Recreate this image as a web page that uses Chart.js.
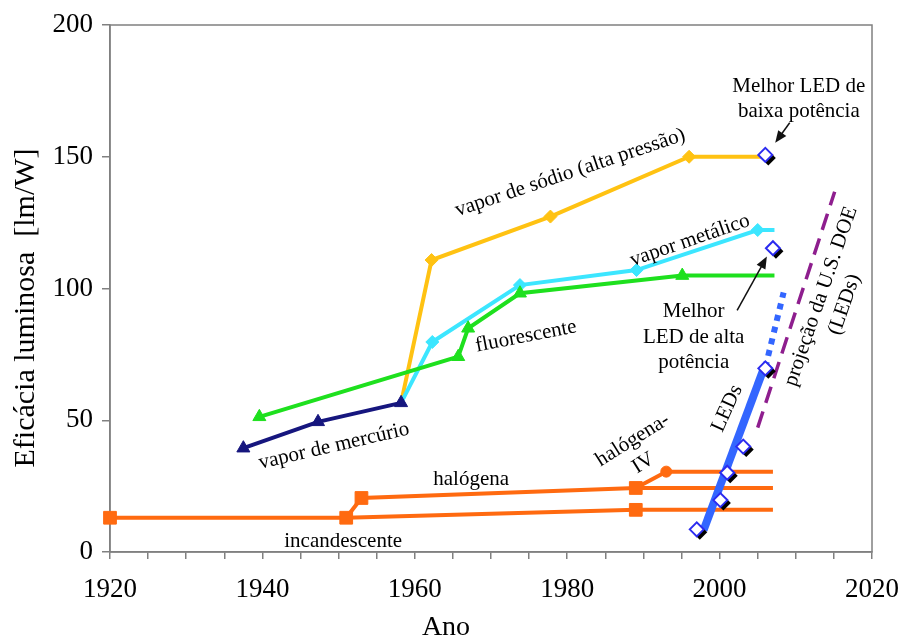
<!DOCTYPE html>
<html><head><meta charset="utf-8">
<script src="https://cdn.jsdelivr.net/npm/chart.js@4"></script>
<style>html,body{margin:0;padding:0;background:#fff;}#wrap{width:906px;height:639px;}</style>
</head><body><div id="wrap"><canvas id="c" width="906" height="639"></canvas></div>
<script>
// ---- data ----
const incYears = [1920, 1951, 1989, 2007];
const incVals  = [13, 13, 16, 16];
const halYears = [1951, 1953, 1989, 2007];
const halVals  = [13, 20.5, 24.3, 24.3];
const halIRYears = [1989, 1993, 2007];
const halIRVals  = [24.3, 30.5, 30.5];
const mercYears = [1937.5, 1947.3, 1958.2];
const mercVals  = [39.4, 49.4, 56.6];
const fluoYears = [1939.6, 1965.7, 1967.0, 1973.8, 1995.1, 2007.2];
const fluoVals  = [51.3, 74.1, 84.9, 98.2, 104.9, 104.9];
const metalYears = [1958.2, 1962.3, 1973.8, 1989.1, 2005.0, 2007.2];
const metalVals  = [56.6, 79.7, 101.3, 107.0, 122.2, 122.2];
const sodioYears = [1958.2, 1962.2, 1977.8, 1996.0, 2007.1];
const sodioVals  = [56.6, 110.8, 127.3, 150.0, 150.0];
const ledYears = [1997.0, 2000.1, 2001.0, 2003.1, 2006.0, 2007.0, 2006.0];
const ledVals  = [8.6, 19.7, 30.1, 40.0, 69.7, 115.3, 150.7];
const ledTrendYears = [1997.9, 2005.8];
const ledTrendVals  = [8.3, 69.7];
const ledProjYears = [2006.0, 2008.4];
const ledProjVals  = [70, 98.5];
const doeYears = [2005.0, 2015.1];
const doeVals  = [47.2, 136.7];
const xTicks = [1920, 1940, 1960, 1980, 2000, 2020];
const yTicks = [0, 50, 100, 150, 200];

const pts = (xs, ys) => xs.map((x, i) => ({x, y: ys[i]}));
const FONT = '"Liberation Serif", "Times New Roman", serif';

function lineDS(data, color, style, radius, markerIdx, order, extra) {
  return Object.assign({
    data, borderColor: color, backgroundColor: color, borderWidth: 4,
    pointStyle: style, pointBorderWidth: 1, pointBorderColor: color, pointBackgroundColor: color,
    pointRadius: ctx => markerIdx.includes(ctx.dataIndex) ? radius : 0,
    pointHoverRadius: 0, tension: 0, clip: false, order, fill: false
  }, extra || {});
}

const datasets = [
  // LED markers (white diamonds, blue edge)
  lineDS(pts(ledYears, ledVals), '#2b2bf0', 'rectRot', 7, [], 0,
    {showLine: false, pointBackgroundColor: '#ffffff', pointBorderColor: '#2b2bf0', pointBorderWidth: 2, pointRadius: 7}),
  // LED marker shadows (same points, drawn offset)
  lineDS(pts(ledYears, ledVals), '#000000', 'rectRot', 7.5, [], 0.5,
    {showLine: false, pointBackgroundColor: '#000000', pointBorderWidth: 0, pointRadius: 7.5}),
  lineDS(pts(ledTrendYears, ledTrendVals), '#3366ff', 'circle', 0, [], 1, {borderWidth: 8, borderCapStyle: 'butt'}),
  lineDS(pts(ledProjYears, ledProjVals), '#3366ff', 'circle', 0, [], 1, {borderWidth: 6, borderDash: [6, 6], borderCapStyle: 'butt'}),
  lineDS(pts(doeYears, doeVals), '#8e1e8e', 'circle', 0, [], 2, {borderWidth: 3.5, borderDash: [17, 9], borderCapStyle: 'butt'}),
  lineDS(pts(incYears, incVals), '#ff6a10', 'rect', 9, [0,1,2], 3),
  lineDS(pts(halYears, halVals), '#ff6a10', 'rect', 9, [1,2], 3),
  lineDS(pts(halIRYears, halIRVals), '#ff6a10', 'circle', 5.5, [1], 3),
  lineDS(pts(mercYears, mercVals), '#16167e', 'triangle', 7.5, [0,1,2], 4),
  lineDS(pts(fluoYears, fluoVals), '#1ee01e', 'triangle', 7.5, [0,1,2,3,4], 5),
  lineDS(pts(metalYears, metalVals), '#3ce6ff', 'rectRot', 6.5, [1,2,3,4], 6),
  lineDS(pts(sodioYears, sodioVals), '#ffc212', 'rectRot', 6.5, [1,2,3], 7),
];

const shadowPlugin = {
  id: 'shadow',
  beforeDatasetDraw(chart, args) {
    if (args.index === 1) { const c = chart.ctx; c.save(); c.translate(3, 3); }
  },
  afterDatasetDraw(chart, args) { if (args.index === 1) chart.ctx.restore(); }
};

const framePlugin = {
  id: 'frame',
  beforeDatasetsDraw(chart) {
    const {ctx, chartArea: a} = chart;
    ctx.save(); ctx.strokeStyle = '#808080'; ctx.lineWidth = 1.5;
    ctx.strokeRect(a.left, a.top, a.right - a.left, a.bottom - a.top);
    ctx.restore();
  }
};

const textPlugin = {
  id: 'texts',
  afterDatasetsDraw(chart) {
    const {ctx, scales: {x, y}} = chart;
    const X = v => x.getPixelForValue(v), Y = v => y.getPixelForValue(v);
    function t(s, yr, val, rot, size, base, dy) {
      ctx.save();
      ctx.translate(X(yr), Y(val));
      ctx.rotate((rot || 0) * Math.PI / 180);
      ctx.font = (size || 21) + 'px ' + FONT;
      ctx.fillStyle = '#000'; ctx.textAlign = 'center'; ctx.textBaseline = base || 'middle';
      ctx.fillText(s, 0, dy || 0);
      ctx.restore();
    }
    function arrow(x0, y0, x1, y1) {
      const ax = X(x0), ay = Y(y0), bx = X(x1), by = Y(y1);
      const ang = Math.atan2(by - ay, bx - ax), L = 12, W = 5;
      ctx.save(); ctx.strokeStyle = '#111'; ctx.fillStyle = '#111'; ctx.lineWidth = 1.5;
      ctx.beginPath(); ctx.moveTo(ax, ay);
      ctx.lineTo(bx - Math.cos(ang) * L * 0.8, by - Math.sin(ang) * L * 0.8); ctx.stroke();
      ctx.beginPath(); ctx.moveTo(bx, by);
      ctx.lineTo(bx - Math.cos(ang) * L - Math.sin(ang) * W, by - Math.sin(ang) * L + Math.cos(ang) * W);
      ctx.lineTo(bx - Math.cos(ang) * L + Math.sin(ang) * W, by - Math.sin(ang) * L - Math.cos(ang) * W);
      ctx.closePath(); ctx.fill(); ctx.restore();
    }
    t('vapor de sódio (alta pressão)', 1980.4, 143.9, -18.5);
    t('vapor metálico', 1996.1, 118.2, -19);
    t('fluorescente', 1974.6, 81.8, -11);
    t('vapor de mercúrio', 1949.4, 40.2, -13);
    t('halógena', 1967.4, 25.4, 0, 21, 'alphabetic');
    t('halógena-', 1988.6, 42.5, -32);
    t('IV', 1990.0, 33.7, -32);
    t('incandescente', 1950.6, 1.9, 0, 21, 'alphabetic');
    t('LEDs', 2001.0, 54.5, -66);
    t('projeção da U.S. DOE', 2013.3, 97.0, -71);
    t('(LEDs)', 2013.3, 97.0, -71, 21, 'middle', 25);
    t('Melhor LED de', 2010.4, 174.6, 0, 21, 'alphabetic');
    t('baixa potência', 2010.4, 165.2, 0, 21, 'alphabetic');
    t('Melhor', 1996.6, 89.0, 0, 21, 'alphabetic');
    t('LED de alta', 1996.6, 79.2, 0, 21, 'alphabetic');
    t('potência', 1996.6, 69.7, 0, 21, 'alphabetic');
    arrow(2009.2, 162.9, 2007.3, 155.3);
    arrow(2002.3, 91.7, 2006.2, 112.1);
    // axis titles
    ctx.save();
    ctx.font = '30px ' + FONT; ctx.fillStyle = '#000'; ctx.textAlign = 'center'; ctx.textBaseline = 'alphabetic';
    ctx.translate(34, 308); ctx.rotate(-Math.PI / 2);
    ctx.fillText('Eficácia luminosa  [lm/W]', 0, 0);
    ctx.restore();
    ctx.save();
    ctx.font = '28px ' + FONT; ctx.fillStyle = '#000'; ctx.textAlign = 'center'; ctx.textBaseline = 'alphabetic';
    ctx.fillText('Ano', 446, 635);
    ctx.restore();
  }
};

new Chart(document.getElementById('c'), {
  type: 'line',
  data: { datasets },
  options: {
    responsive: false, animation: false, devicePixelRatio: 1,
    layout: { padding: { top: 25, right: 34, left: 0, bottom: 0 } },
    plugins: { legend: { display: false }, tooltip: { enabled: false } },
    events: [],
    scales: {
      x: {
        type: 'linear', min: 1920, max: 2020,
        afterFit: s => { s.height = 87; s.paddingLeft = 0; s.paddingRight = 0; },
        border: { display: true, color: '#808080', width: 1.5 },
        grid: { drawOnChartArea: false, drawTicks: true, tickLength: 7, color: '#808080', lineWidth: 1.5 },
        ticks: { stepSize: 5, autoSkip: false, maxRotation: 0, padding: 15, color: '#000',
          font: { family: FONT, size: 27 },
          callback: v => xTicks.includes(v) ? String(v) : '' }
      },
      y: {
        min: 0, max: 200,
        afterFit: s => { s.width = 110; s.paddingTop = 0; s.paddingBottom = 0; },
        border: { display: true, color: '#808080', width: 1.5 },
        grid: { drawOnChartArea: false, drawTicks: true, tickLength: 8, color: '#808080', lineWidth: 1.5 },
        ticks: { stepSize: 50, padding: 9, color: '#000', font: { family: FONT, size: 27 },
          callback: v => yTicks.includes(v) ? String(v) : '' }
      }
    }
  },
  plugins: [shadowPlugin, framePlugin, textPlugin]
});
</script>
</body></html>
